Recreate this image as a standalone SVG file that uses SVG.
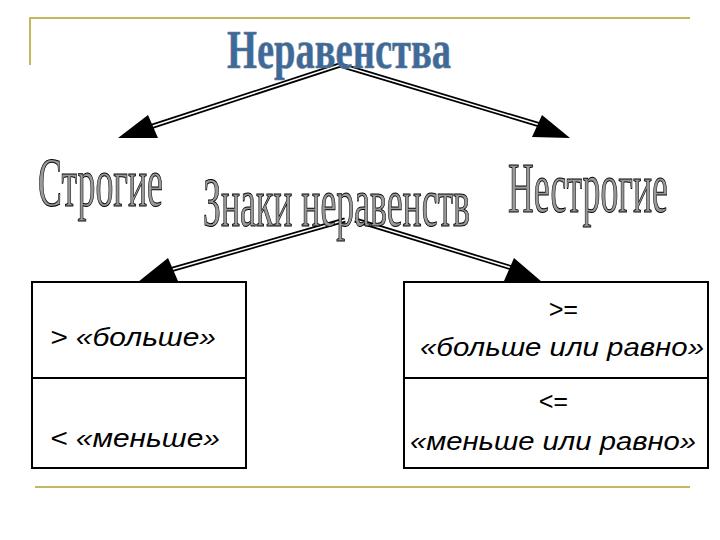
<svg xmlns="http://www.w3.org/2000/svg" width="720" height="540" viewBox="0 0 720 540">
<style>
.w{font-family:"Liberation Serif",serif;stroke:#000;stroke-width:1;fill:#999}
.t{font-family:"Liberation Serif",serif;fill:#3d6a9a;stroke:#6a7f95;stroke-width:0.6}
.b{font-family:"Liberation Sans",Arial,sans-serif;font-style:italic;font-size:25px;fill:#000}
.sh{stroke:#000;stroke-width:5;fill:none}
.sh2{stroke:#fff;stroke-width:1.5;fill:none}
.box{fill:#fff;stroke:#000;stroke-width:2}
</style>
<g id="frame" stroke="#c8b560" stroke-width="2" fill="none">
<path d="M30,65 V18 H690"/>
<path d="M35,487 H690"/>
</g>
<g id="connectors">
<path class="sh" d="M340,65 L150,127"/><path class="sh2" d="M340,65 L150,127"/>
<path d="M118,138 L148,115 L158,138 Z"/>
<path class="sh" d="M340,65 L540,125"/><path class="sh2" d="M340,65 L540,125"/>
<path d="M570,138 L532,137 L542,115 Z"/>
<path class="sh" d="M345,220 L170,270"/><path class="sh2" d="M345,220 L170,270"/>
<path d="M138,282 L168,258 L178,281 Z"/>
<path class="sh" d="M355,220 L512,268"/><path class="sh2" d="M355,220 L512,268"/>
<path d="M542,282 L504,281 L514,258 Z"/>
</g>
<g id="title"><text class="t" x="227" y="68" font-size="54" font-weight="bold" textLength="224" lengthAdjust="spacingAndGlyphs">Неравенства</text></g>
<g id="strogie"><text class="w" x="38" y="206" font-size="70" textLength="125" lengthAdjust="spacingAndGlyphs">Строгие</text></g>
<g id="znaki"><text class="w" x="203" y="226" font-size="70" textLength="267" lengthAdjust="spacingAndGlyphs">Знаки неравенств</text></g>
<g id="nestrogie"><text class="w" x="508" y="212" font-size="72" textLength="160" lengthAdjust="spacingAndGlyphs">Нестрогие</text></g>
<g id="left-box">
<rect class="box" x="32" y="282" width="214" height="186"/>
<line x1="32" y1="378" x2="246" y2="378" stroke="#000" stroke-width="2"/>
<text class="b" x="50" y="346" textLength="166" lengthAdjust="spacingAndGlyphs">&gt; «больше»</text>
<text class="b" x="50" y="447" textLength="170" lengthAdjust="spacingAndGlyphs">&lt; «меньше»</text>
</g>
<g id="right-box">
<rect class="box" x="404" y="282" width="304" height="186"/>
<line x1="404" y1="378" x2="708" y2="378" stroke="#000" stroke-width="2"/>
<text class="b" x="563" y="318" text-anchor="middle">&gt;=</text>
<text class="b" x="420" y="356" textLength="284" lengthAdjust="spacingAndGlyphs">«больше или равно»</text>
<text class="b" x="553" y="410" text-anchor="middle">&lt;=</text>
<text class="b" x="410" y="450" textLength="286" lengthAdjust="spacingAndGlyphs">«меньше или равно»</text>
</g>
</svg>
